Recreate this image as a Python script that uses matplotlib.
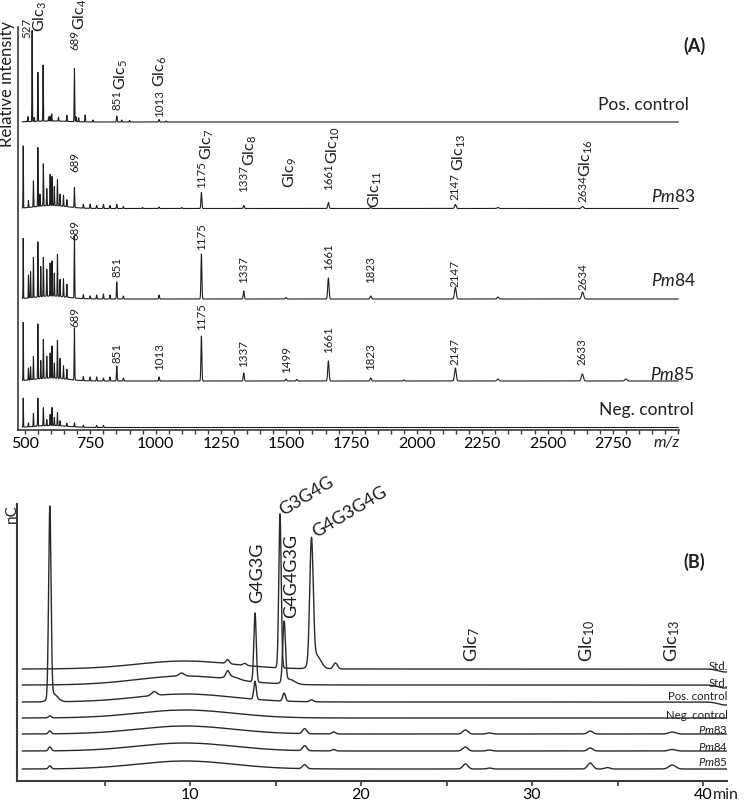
import numpy as np
import matplotlib
matplotlib.use("Agg")
import matplotlib.pyplot as plt

plt.rcParams['font.family'] = ['Lato', 'DejaVu Sans']
plt.rcParams['mathtext.fontset'] = 'custom'
plt.rcParams['mathtext.rm'] = 'Lato'
plt.rcParams['mathtext.it'] = 'Lato:italic'
plt.rcParams['mathtext.bf'] = 'Lato:bold'

# ---------------- (A) MALDI spectra: peak m/z and heights ----------------
pos_mz = [511, 527, 535, 549, 569, 590, 596, 602, 628, 660, 689, 695, 705, 730, 760, 851, 870, 900, 1013, 1040]
pos_int = [5, 91, 4, 49, 56, 4, 5, 7, 4, 6, 53, 5, 4, 7, 2, 6, 2, 1.5, 2.5, 1]

pm83_mz = [493, 513, 532, 549, 557, 570, 583, 596, 603, 612, 624, 634, 647, 660, 689, 723, 749, 774, 800,
           825, 851, 876, 950, 1013, 1100, 1175, 1337, 1661, 1823, 2147, 2310, 2634]
pm83_int = [62, 7, 26, 59, 12, 42, 17, 31, 29, 19, 26, 12, 11, 7, 20, 4, 4, 3, 4,
            3, 4, 2, 1, 1.5, 1, 16, 3, 6, 1, 4, 1, 2]

pm84_mz = [493, 513, 521, 532, 549, 560, 570, 583, 596, 603, 612, 624, 634, 647, 660, 689, 723, 749, 774,
           800, 825, 851, 876, 1013, 1175, 1337, 1499, 1661, 1823, 2147, 2310, 2634]
pm84_int = [60, 23, 26, 40, 55, 30, 39, 27, 33, 35, 23, 42, 17, 18, 13, 62, 4, 3, 4,
            5, 4, 17, 3, 4, 45, 8, 1.5, 21, 3, 12, 2, 7]

pm85_mz = [493, 513, 521, 532, 549, 560, 570, 583, 596, 603, 612, 624, 634, 647, 660, 689, 723, 749, 774,
           800, 825, 851, 876, 1013, 1175, 1337, 1499, 1540, 1661, 1823, 1950, 2147, 2310, 2633, 2800]
pm85_int = [58, 12, 13, 23, 55, 18, 39, 22, 25, 32, 15, 38, 20, 13, 10, 52, 4, 4, 4,
            3, 4, 15, 3, 4, 45, 8, 2, 1.5, 20, 3, 1, 13, 2, 7, 2]

neg_mz = [493, 513, 532, 549, 570, 583, 596, 603, 612, 624, 634, 660, 689, 723, 774, 800]
neg_int = [29, 4, 13, 28, 18, 6, 11, 18, 8, 13, 5, 3, 4, 2, 2, 2]

ms_names = ["Pos. control", "$\\mathit{Pm}$83", "$\\mathit{Pm}$84", "$\\mathit{Pm}$85", "Neg. control"]
ms_hump = [1, 3, 3, 3, 2]   # raised baseline around the low-mass cluster

# peak labels: (text, m/z, bottom of label)
ms_num_labels = [
    ("527", 506, 393), ("689", 689, 381), ("851", 852, 321), ("1013", 1013, 314),
    ("689", 689, 259), ("1175", 1175, 243), ("1337", 1337, 239), ("1661", 1661, 241),
    ("2147", 2147, 231), ("2634", 2634, 229),
    ("689", 689, 191), ("851", 851, 154), ("1175", 1175, 181), ("1337", 1337, 148),
    ("1661", 1661, 161), ("1823", 1823, 148), ("2147", 2147, 144), ("2634", 2634, 141),
    ("689", 689, 104), ("851", 851, 68), ("1013", 1013, 61), ("1175", 1175, 101),
    ("1337", 1337, 64), ("1499", 1499, 58), ("1661", 1661, 78), ("1823", 1823, 61),
    ("2147", 2147, 66), ("2633", 2633, 66),
]
ms_glc_labels = [
    (3, 557, 399), (4, 712, 401), (5, 867, 341), (6, 1017, 344),
    (7, 1197, 271), (8, 1361, 265), (9, 1514, 243), (10, 1681, 267),
    (11, 1839, 223), (13, 2163, 260), (16, 2649, 254),
]

# ---------------- (B) HPAEC-PAD chromatograms: (time, height, width) ----------------
lc_names = ["Std.", "Std.", "Pos. control", "Neg. control",
            "$\\mathit{Pm}$83", "$\\mathit{Pm}$84", "$\\mathit{Pm}$85"]
std1_peaks = [(12.2, 4, 0.1), (13.2, 2, 0.1), (15.26, 154, 0.07), (17.1, 122, 0.1),
              (17.35, 14, 0.28), (18.5, 6, 0.12), (41.3, -3, 0.4)]
std2_peaks = [(9.5, 3, 0.15), (12.2, 6, 0.1), (12.45, 3, 0.35), (13.8, 69, 0.07),
              (15.5, 60, 0.08), (15.8, 5, 0.3), (41.3, -3, 0.4)]
pos_peaks = [(1.8, 190, 0.07), (2.0, 8, 0.25), (7.9, 4, 0.15), (13.8, 18, 0.07),
             (15.5, 8, 0.08), (17.1, 2, 0.1), (41.3, -3, 0.4)]
neg_peaks = [(1.8, 2, 0.08)]
pm83_peaks = [(1.8, 3, 0.08), (16.7, 5, 0.12), (18.4, 2, 0.1), (26.1, 4, 0.15),
              (27.5, 1, 0.15), (33.4, 3, 0.15), (38.2, 2, 0.2)]
pm84_peaks = [(1.8, 4, 0.08), (16.7, 5, 0.12), (18.4, 1.5, 0.1), (26.1, 4, 0.15),
              (27.5, 1, 0.15), (33.4, 3, 0.15), (38.2, 1.5, 0.2)]
pm85_peaks = [(1.8, 3, 0.08), (16.7, 4, 0.12), (26.1, 5, 0.15), (27.5, 1, 0.15),
              (33.4, 6, 0.15), (34.4, 1.5, 0.15), (38.2, 4, 0.2)]
lc_hump = [8, 9, 8, 8, 8, 8, 8]


def ms_curve(grid, mz, inten, hump):
    y = hump * np.exp(-0.5 * ((grid - 600) / 60) ** 2)
    for m, h in zip(mz, inten):
        s = 0.0015 * m
        y += h * np.exp(-0.5 * ((grid - m) / s) ** 2)
    return y


def lc_curve(grid, peaks, hump):
    y = hump * np.exp(-0.5 * ((grid - 9.7) / 2.8) ** 2)
    for t, h, s in peaks:
        y += h * np.exp(-0.5 * ((grid - t) / s) ** 2)
    return y


W, H = 745, 803
fig = plt.figure(figsize=(W / 100, H / 100), dpi=100)

def px_box(l, t, r, b):
    return [l / W, 1 - b / H, (r - l) / W, (b - t) / H]

ink = '#1e1e1e'
axc = '#3a3a3a'

# ---- panel A ----
axA = fig.add_axes(px_box(18, 28, 679, 431))
grid = np.arange(490, 3000, 0.25)
ms_offsets = [308, 221.5, 131, 49, 2.5]
ms_sets = [(pos_mz, pos_int), (pm83_mz, pm83_int), (pm84_mz, pm84_int),
           (pm85_mz, pm85_int), (neg_mz, neg_int)]
name_pos = [(3041, 326), (3068, 234), (3068, 151), (3064, 56), (3060, 21)]
for (mz, inten), off, hump, name, (nx, ny) in zip(ms_sets, ms_offsets, ms_hump, ms_names, name_pos):
    axA.plot(grid, off + ms_curve(grid, mz, inten, hump), color=ink, lw=0.8)
    axA.text(nx, ny, name, ha='right', va='center', fontsize=12.5, color=ink, clip_on=False)

for txt, x, y in ms_num_labels:
    axA.text(x, y, txt, rotation=90, ha='center', va='bottom', fontsize=8.3, color=ink)
for dp, x, y in ms_glc_labels:
    axA.text(x, y, "Glc$_{%d}$" % dp, rotation=90, ha='center', va='bottom', fontsize=11.5, color=ink)

axA.set_xlim(473, 3003)
axA.set_ylim(0, 403)
axA.set_xticks(np.arange(500, 2751, 250))
axA.set_xticks(np.arange(500, 3001, 50), minor=True)
axA.tick_params(axis='x', which='both', direction='out', length=3, width=1, color=axc,
                labelsize=11.5, pad=1.5)
axA.set_yticks([])
for s in ['top', 'right']:
    axA.spines[s].set_visible(False)
for s in ['left', 'bottom']:
    axA.spines[s].set_color(axc)
    axA.spines[s].set_linewidth(1.2)
axA.set_facecolor('none')

fig.text(667 / W, 1 - 443 / H, "m/z", style='italic', fontsize=11.5, ha='center', va='center', color=ink)
fig.text(7 / W, 1 - 84 / H, "Relative intensity", rotation=90, fontsize=12, ha='center', va='center', color=ink)
fig.text(695 / W, 1 - 46 / H, "(A)", fontweight='bold', fontsize=13, ha='center', va='center', color=ink)

# ---- panel B ----
axB = fig.add_axes(px_box(17, 505, 727, 782))
tgrid = np.arange(0.2, 41.4, 0.01)
lc_sets = [std1_peaks, std2_peaks, pos_peaks, neg_peaks, pm83_peaks, pm84_peaks, pm85_peaks]
lc_offsets = [112, 96, 79, 63, 47, 30, 12]
lc_name_y = [115, 98, 85, 66, 52, 35, 20]
for peaks, off, hump, name, ny in zip(lc_sets, lc_offsets, lc_hump, lc_names, lc_name_y):
    axB.plot(tgrid, off + lc_curve(tgrid, peaks, hump), color='#2a2a2a', lw=1.0)
    axB.text(41.45, ny, name, ha='right', va='center', fontsize=8.2, color=ink, clip_on=False)

axB.text(15.55, 263, "G3G4G", rotation=31, rotation_mode='anchor', ha='left', va='bottom', fontsize=13, color=ink)
axB.text(17.45, 241, "G4G3G4G", rotation=31, rotation_mode='anchor', ha='left', va='bottom', fontsize=13, color=ink)
axB.text(13.9, 179, "G4G3G", rotation=90, ha='center', va='bottom', fontsize=13, color=ink)
axB.text(15.9, 164, "G4G4G3G", rotation=90, ha='center', va='bottom', fontsize=13, color=ink)
for dp, t in [(7, 26.5), (10, 33.2), (13, 38.2)]:
    axB.text(t, 120, "Glc$_{%d}$" % dp, rotation=90, ha='center', va='bottom', fontsize=13, color=ink)

axB.set_xlim(-0.12, 41.4)
axB.set_ylim(0, 277)
axB.set_xticks([10, 20, 30, 40])
axB.set_xticks([5, 15, 25, 35], minor=True)
axB.tick_params(axis='x', which='both', direction='out', length=3.5, width=1.2, color=axc,
                labelsize=11.5, pad=0.5)
axB.set_yticks([])
for s in ['top', 'right']:
    axB.spines[s].set_visible(False)
for s in ['left', 'bottom']:
    axB.spines[s].set_color(axc)
    axB.spines[s].set_linewidth(1.5)
axB.set_facecolor('none')

fig.text(713 / W, 1 - 795 / H, "min", fontsize=11.5, ha='left', va='center', color=ink)
fig.text(12 / W, 1 - 514 / H, "nC", rotation=90, fontsize=11, ha='center', va='center', color=ink)
fig.text(694 / W, 1 - 562 / H, "(B)", fontweight='bold', fontsize=13, ha='center', va='center', color=ink)

fig.savefig("out.png", dpi=100)
